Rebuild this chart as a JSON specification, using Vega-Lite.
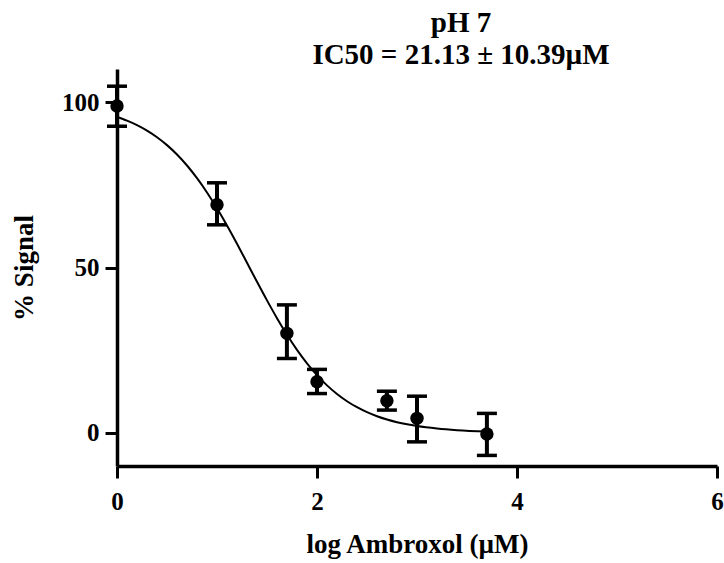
{
  "$schema": "https://vega.github.io/schema/vega-lite/v6.json",
  "width": 600,
  "height": 397,
  "autosize": {"type": "none"},
  "padding": {"left": 117, "top": 69, "right": 7, "bottom": 97},
  "background": "white",
  "config": {
    "view": {"stroke": null},
    "font": "Liberation Serif",
    "axis": {
      "grid": false,
      "domainColor": "black",
      "domainWidth": 3.5,
      "tickColor": "black",
      "tickWidth": 3,
      "tickSize": 12,
      "labelFlush": false,
      "labelFont": "Liberation Serif",
      "labelFontWeight": "bold",
      "labelFontSize": 25,
      "labelColor": "black",
      "titleFont": "Liberation Serif",
      "titleFontWeight": "bold",
      "titleFontSize": 27,
      "titleColor": "black"
    }
  },
  "title": {
    "text": ["pH 7", "IC50 = 21.13 ± 10.39µM"],
    "font": "Liberation Serif",
    "fontWeight": "bold",
    "fontSize": 29,
    "color": "black",
    "lineHeight": 32,
    "anchor": "middle",
    "frame": "group",
    "baseline": "bottom",
    "offset": -30,
    "dx": 44
  },
  "datasets": {
    "points": [
      {"x": 0.0, "y": 98.8, "lo": 92.7, "hi": 104.8},
      {"x": 1.0, "y": 69.0, "lo": 62.9, "hi": 75.6},
      {"x": 1.699, "y": 30.1, "lo": 22.5, "hi": 38.7},
      {"x": 2.0, "y": 15.5, "lo": 11.9, "hi": 19.2},
      {"x": 2.699, "y": 9.7, "lo": 6.9, "hi": 12.6},
      {"x": 3.0, "y": 4.4, "lo": -2.7, "hi": 11.1},
      {"x": 3.699, "y": -0.3, "lo": -6.8, "hi": 5.9}
    ],
    "curve": [
      {"x": 0.0, "y": 95.48},
      {"x": 0.1, "y": 94.38},
      {"x": 0.2, "y": 93.02},
      {"x": 0.3, "y": 91.37},
      {"x": 0.4, "y": 89.38},
      {"x": 0.5, "y": 86.99},
      {"x": 0.6, "y": 84.15},
      {"x": 0.7, "y": 80.83},
      {"x": 0.8, "y": 77.01},
      {"x": 0.9, "y": 72.69},
      {"x": 1.0, "y": 67.88},
      {"x": 1.1, "y": 62.67},
      {"x": 1.2, "y": 57.15},
      {"x": 1.3, "y": 51.44},
      {"x": 1.4, "y": 45.69},
      {"x": 1.5, "y": 40.06},
      {"x": 1.6, "y": 34.68},
      {"x": 1.7, "y": 29.66},
      {"x": 1.8, "y": 25.09},
      {"x": 1.9, "y": 21.02},
      {"x": 2.0, "y": 17.45},
      {"x": 2.1, "y": 14.37},
      {"x": 2.2, "y": 11.77},
      {"x": 2.3, "y": 9.58},
      {"x": 2.4, "y": 7.76},
      {"x": 2.5, "y": 6.26},
      {"x": 2.6, "y": 5.04},
      {"x": 2.7, "y": 4.05},
      {"x": 2.8, "y": 3.24},
      {"x": 2.9, "y": 2.59},
      {"x": 3.0, "y": 2.07},
      {"x": 3.2, "y": 1.32},
      {"x": 3.4, "y": 0.83},
      {"x": 3.7, "y": 0.42}
    ]
  },
  "layer": [
    {
      "data": {"name": "curve"},
      "mark": {"type": "line", "color": "black", "strokeWidth": 2, "interpolate": "monotone"},
      "encoding": {
        "x": {
          "field": "x", "type": "quantitative",
          "scale": {"domain": [0, 6], "nice": false, "zero": false},
          "axis": {"values": [0, 2, 4, 6], "title": "log Ambroxol (µM)", "labelPadding": 11, "titlePadding": 17, "format": "d"}
        },
        "y": {
          "field": "y", "type": "quantitative",
          "scale": {"domain": [-10, 110], "nice": false, "zero": false},
          "axis": {"values": [0, 50, 100], "title": "% Signal", "labelPadding": 6, "titlePadding": 23, "format": "d"}
        }
      }
    },
    {
      "data": {"name": "points"},
      "mark": {"type": "rule", "color": "black", "strokeWidth": 4},
      "encoding": {
        "x": {"field": "x", "type": "quantitative"},
        "y": {"field": "lo", "type": "quantitative"},
        "y2": {"field": "hi"}
      }
    },
    {
      "data": {"name": "points"},
      "mark": {"type": "tick", "color": "black", "opacity": 1, "orient": "horizontal", "size": 20, "thickness": 3.5},
      "encoding": {
        "x": {"field": "x", "type": "quantitative"},
        "y": {"field": "lo", "type": "quantitative"}
      }
    },
    {
      "data": {"name": "points"},
      "mark": {"type": "tick", "color": "black", "opacity": 1, "orient": "horizontal", "size": 20, "thickness": 3.5},
      "encoding": {
        "x": {"field": "x", "type": "quantitative"},
        "y": {"field": "hi", "type": "quantitative"}
      }
    },
    {
      "data": {"name": "points"},
      "mark": {"type": "point", "shape": "circle", "filled": true, "color": "black", "opacity": 1, "size": 180},
      "encoding": {
        "x": {"field": "x", "type": "quantitative"},
        "y": {"field": "y", "type": "quantitative"}
      }
    }
  ]
}
